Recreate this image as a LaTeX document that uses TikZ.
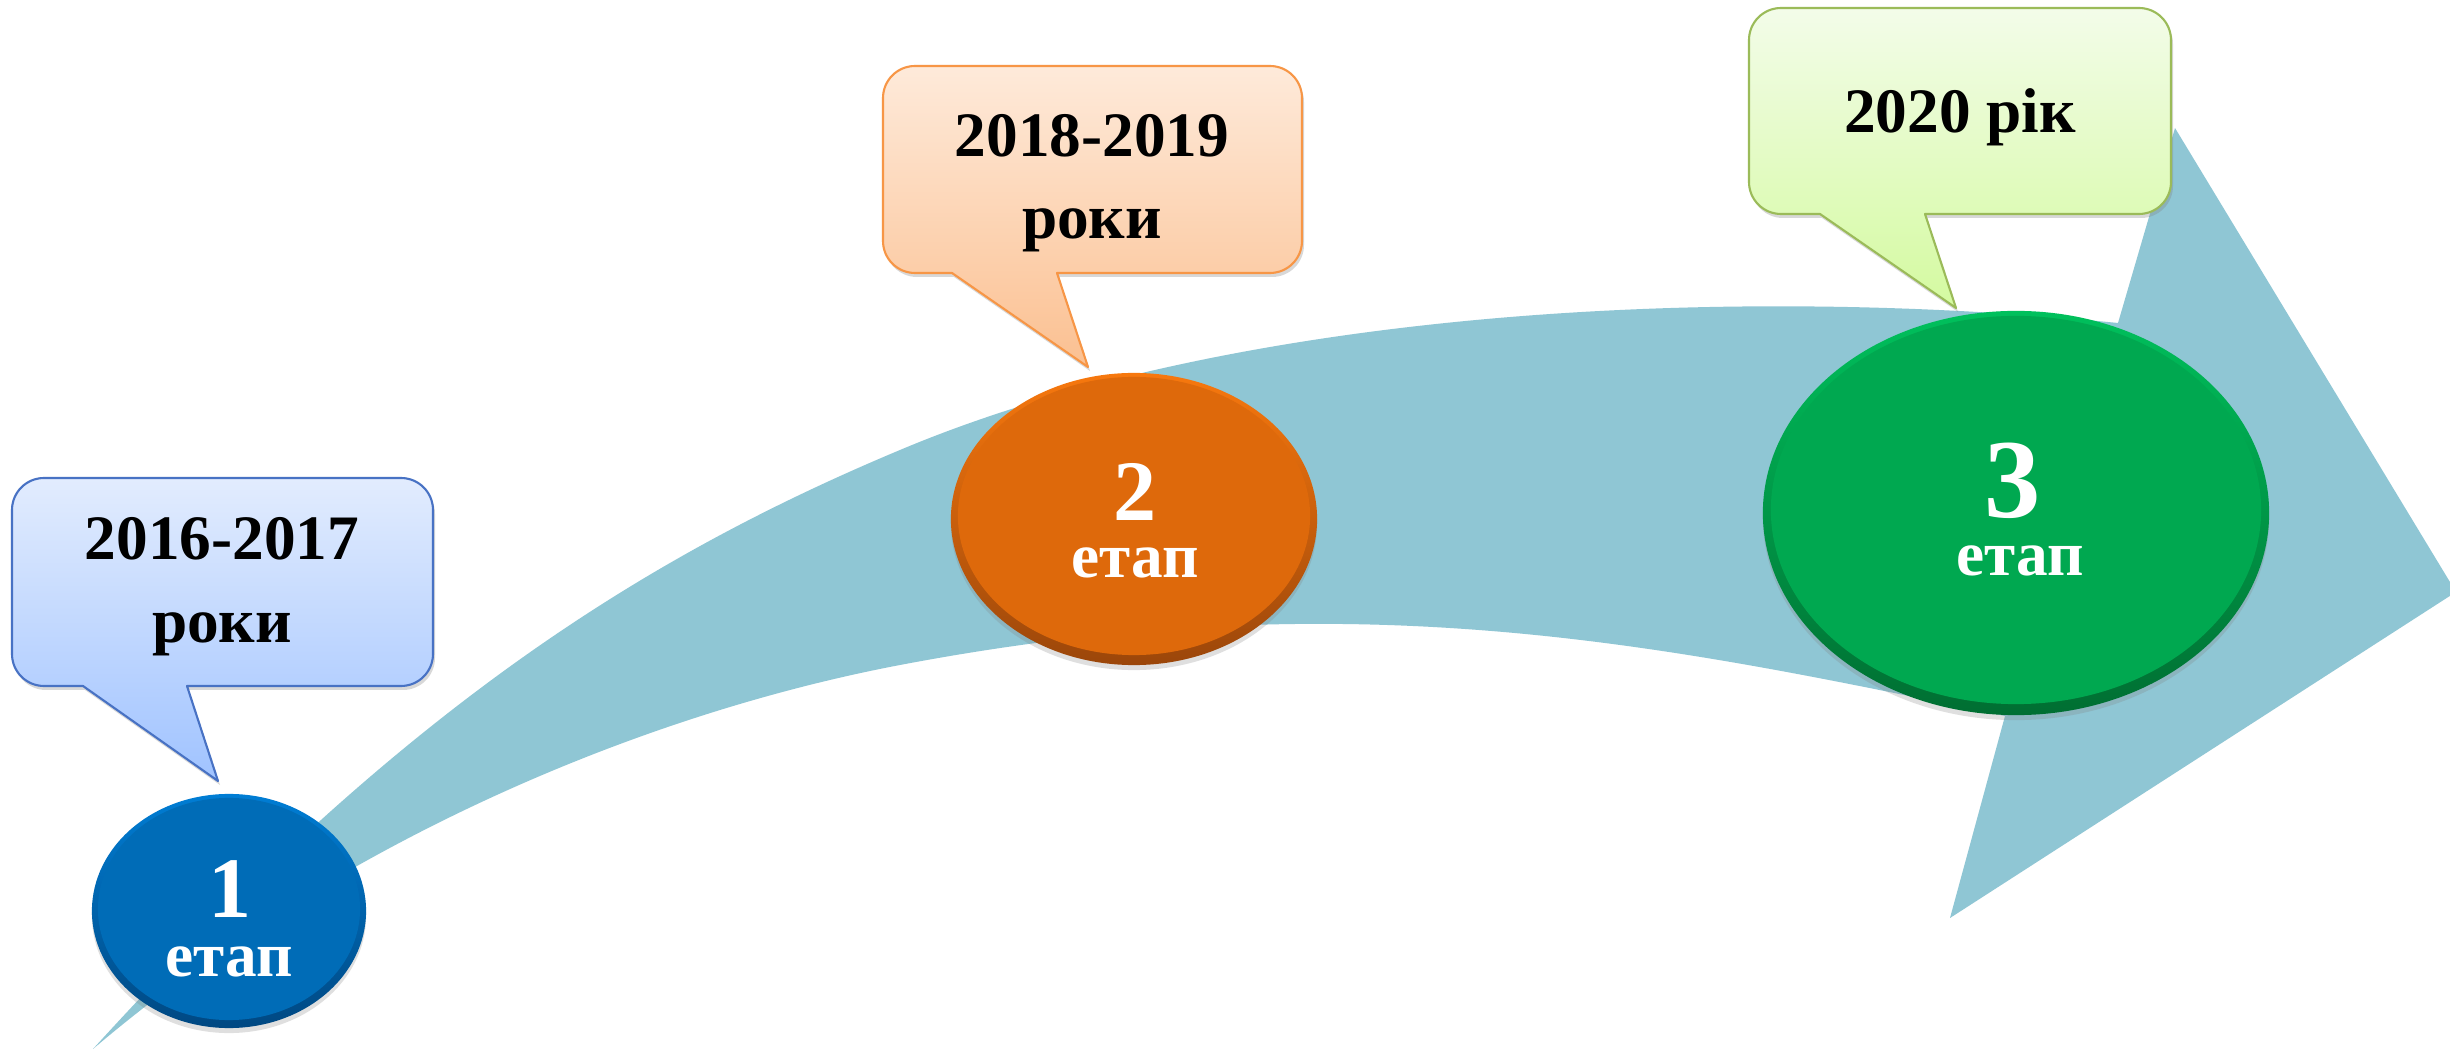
\documentclass[tikz,border=0pt]{standalone}
\usepackage{fontspec}
\setmainfont{Liberation Serif}
\usetikzlibrary{shapes.geometric,shadows}
\definecolor{arrowc}{RGB}{143,198,212}
\definecolor{blueM}{RGB}{0,108,183}
\definecolor{blueL}{RGB}{0,125,212}
\definecolor{blueD}{RGB}{0,72,130}
\definecolor{orM}{RGB}{222,105,11}
\definecolor{orL}{RGB}{247,120,14}
\definecolor{orD}{RGB}{155,70,10}
\definecolor{grM}{RGB}{0,168,80}
\definecolor{grL}{RGB}{0,192,92}
\definecolor{grD}{RGB}{0,110,50}
\definecolor{cbT}{RGB}{226,236,254}
\definecolor{cbB}{RGB}{160,195,255}
\definecolor{cbE}{RGB}{72,114,196}
\definecolor{coT}{RGB}{254,234,218}
\definecolor{coB}{RGB}{251,192,145}
\definecolor{coE}{RGB}{247,150,70}
\definecolor{cgT}{RGB}{243,252,233}
\definecolor{cgB}{RGB}{212,250,160}
\definecolor{cgE}{RGB}{155,187,89}
\begin{document}
\begin{tikzpicture}[x=0.01cm,y=-0.01cm,
  stageouter/.style={ellipse, inner sep=0pt, drop shadow={shadow xshift=0pt, shadow yshift=-0.05cm, opacity=0.25}},
  stageinner/.style={ellipse, inner sep=0pt},
  calloutbox/.style={line width=0.6pt, line join=round, drop shadow={shadow xshift=0.02cm, shadow yshift=-0.04cm, opacity=0.3}},
  yeartext/.style={font=\fontsize{18}{22}\selectfont\bfseries, anchor=base, inner sep=0pt, text=black},
  stagetext/.style={font=\fontsize{18}{22}\selectfont\bfseries, anchor=base, inner sep=0pt, text=white},
  numtext/.style={font=\fontsize{24.5}{28}\selectfont\bfseries, anchor=base, inner sep=0pt, text=white},
  bignumtext/.style={font=\fontsize{32}{36}\selectfont\bfseries, anchor=base, inner sep=0pt, text=white},
]
\useasboundingbox (0,0) rectangle (2450,1049);
\fill[white] (0,0) rectangle (2450,1049);

% curved arrow
\coordinate (tail) at (93,1049);
\coordinate (umid) at (900,450);
\coordinate (uend) at (2118,323);
\coordinate (barbU) at (2175,128);
\coordinate (tip) at (2456,592);
\coordinate (barbL) at (1950,918);
\coordinate (lend) at (2005,716);
\coordinate (lmid) at (900,665);
\fill[arrowc] (tail) .. controls (393,719) and (630,563) .. (umid)
  .. controls (1230,311) and (1718,283) .. (uend)
  -- (barbU) -- (tip) -- (barbL) -- (lend)
  .. controls (1655,642.5) and (1350,579.5) .. (lmid)
  .. controls (650,712.5) and (343,836.5) .. (tail) -- cycle;

% stage ellipses
\node[stageouter, minimum width=2.74cm, minimum height=2.34cm, top color=blueL, bottom color=blueD] (e1) at (229,911) {};
\node[stageinner, minimum width=2.62cm, minimum height=2.22cm, fill=blueM] (e1in) at (229,909) {};
\node[stageouter, minimum width=3.66cm, minimum height=2.92cm, top color=orL, bottom color=orD] (e2) at (1134,519) {};
\node[stageinner, minimum width=3.52cm, minimum height=2.78cm, fill=orM] (e2in) at (1134,516) {};
\node[stageouter, minimum width=5.06cm, minimum height=4.04cm, top color=grL, bottom color=grD] (e3) at (2016,513) {};
\node[stageinner, minimum width=4.90cm, minimum height=3.88cm, fill=grM] (e3in) at (2016,510) {};

\node[numtext] (n1) at (230,917) {1};
\node[stagetext] (t1) at (229,976) {етап};
\node[numtext] (n2) at (1135,521) {2};
\node[stagetext] (t2) at (1135,578) {етап};
\node[bignumtext] (n3) at (2013,518) {3};
\node[stagetext] (t3) at (2020,576) {етап};

% callouts
\draw[calloutbox, draw=cbE, top color=cbT, bottom color=cbB]
  (222,478) [rounded corners=0.32cm] -- (433,478) -- (433,686) [sharp corners] -- (187,686) -- (218,781) -- (83,686) [rounded corners=0.32cm] -- (12,686) -- (12,478) -- cycle;
\draw[calloutbox, draw=coE, top color=coT, bottom color=coB]
  (1092,66) [rounded corners=0.32cm] -- (1302,66) -- (1302,273) [sharp corners] -- (1057,273) -- (1088,367) -- (952,273) [rounded corners=0.32cm] -- (883,273) -- (883,66) -- cycle;
\draw[calloutbox, draw=cgE, top color=cgT, bottom color=cgB]
  (1960,8) [rounded corners=0.32cm] -- (2171,8) -- (2171,214) [sharp corners] -- (1925,214) -- (1956,308) -- (1820,214) [rounded corners=0.32cm] -- (1749,214) -- (1749,8) -- cycle;

\node[yeartext] (y1a) at (222,560) {2016-2017};
\node[yeartext] (y1b) at (222,643) {роки};
\node[yeartext] (y2a) at (1092,157) {2018-2019};
\node[yeartext] (y2b) at (1092,239) {роки};
\node[yeartext] (y3) at (1960,133) {2020 рік};
\end{tikzpicture}
\end{document}
